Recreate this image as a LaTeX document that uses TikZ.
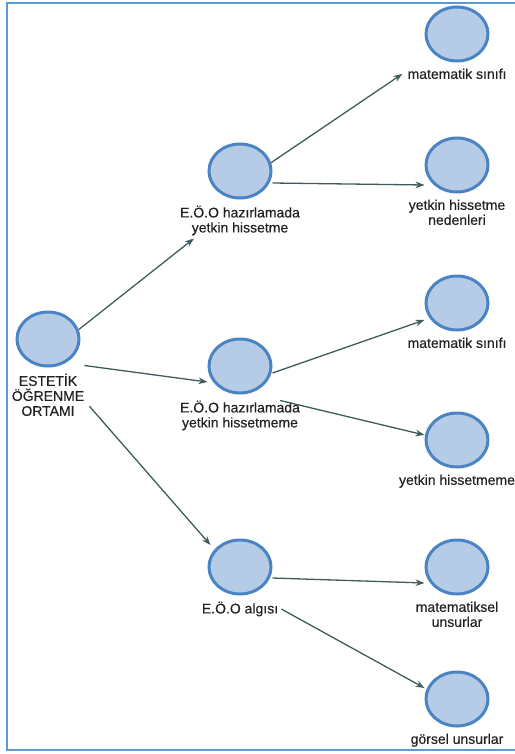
\documentclass[tikz,border=0pt]{standalone}
\usepackage{fontspec}
\setmainfont[FakeBold=0.4]{Liberation Sans}
\usetikzlibrary{arrows.meta,positioning,shapes.geometric,calc}
\definecolor{nodefill}{HTML}{B6CBE6}
\definecolor{nodeline}{HTML}{4A84C2}
\definecolor{edgecol}{HTML}{3D5C5C}
\definecolor{framecol}{HTML}{5B9BD5}
\definecolor{textcol}{HTML}{222222}

\begin{document}
\begin{tikzpicture}[
    x=1bp, y=-1bp,
    node distance=6bp,
    circ/.style={ellipse,draw=nodeline,fill=nodefill,line width=3bp,minimum width=62bp,minimum height=54bp,inner sep=0pt},
    lab/.style={align=center,inner sep=0pt,text=textcol,font=\fontsize{14bp}{15bp}\selectfont},
    edge/.style={draw=edgecol,line width=1.3bp,-{Stealth[length=9bp,width=6.5bp]}}]
  \useasboundingbox (0,0) rectangle (515,754);
  \draw[framecol,line width=2bp] (530,3) -- (7,3) -- (7,750) -- (530,750);

  \node[circ] (r0) at (48,339) {};
  \node[lab,below=of r0] (r0t) {ESTETİK\\ÖĞRENME\\ORTAMI};

  \node[circ] (a1) at (240,171) {};
  \node[lab,below=of a1] (a1t) {E.Ö.O hazırlamada\\yetkin hissetme};
  \node[circ] (a2) at (240,366) {};
  \node[lab,below=of a2] (a2t) {E.Ö.O hazırlamada\\yetkin hissetmeme};
  \node[circ] (a3) at (240,567) {};
  \node[lab,below=of a3] (a3t) {E.Ö.O algısı};

  \node[circ] (l1) at (457,34) {};
  \node[lab,below=of l1] (l1t) {matematik sınıfı};
  \node[circ] (l2) at (457,165) {};
  \node[lab,below=of l2] (l2t) {yetkin hissetme\\nedenleri};
  \node[circ] (l3) at (457,303) {};
  \node[lab,below=of l3] (l3t) {matematik sınıfı};
  \node[circ] (l4) at (457,440) {};
  \node[lab,below=of l4] (l4t) {yetkin hissetmeme};
  \node[circ] (l5) at (457,567) {};
  \node[lab,below=of l5] (l5t) {matematiksel\\unsurlar};
  \node[circ] (l6) at (457,699) {};
  \node[lab,below=of l6] (l6t) {görsel unsurlar};

  \draw[edge] (r0.17) -- ($(a1t.south west)+(14,3)$);
  \draw[edge] ($(r0t.north east)+(0,-8)$) -- ($(a2.west)+(0,16)$);
  \draw[edge] ($(r0t.south east)+(5,-10)$) -- ($(a3.west)+(3,-22)$);
  \draw[edge] (a1.15) -- ($(l1t.west)+(-5,0)$);
  \draw[edge] ($(a1.east)+(0,12)$) -- ($(l2.west)+(0,20)$);
  \draw[edge] ($(a2.east)+(0,7)$) -- ($(l3.west)+(0,17)$);
  \draw[edge] ($(a2t.north east)+(-20,0)$) -- ($(l4.west)+(0,-5)$);
  \draw[edge] ($(a3.east)+(0,11)$) -- ($(l5.west)+(0,16)$);
  \draw[edge] ($(a3t.east)+(3,0)$) -- ($(l6.west)+(0,-11)$);
\end{tikzpicture}
\end{document}
